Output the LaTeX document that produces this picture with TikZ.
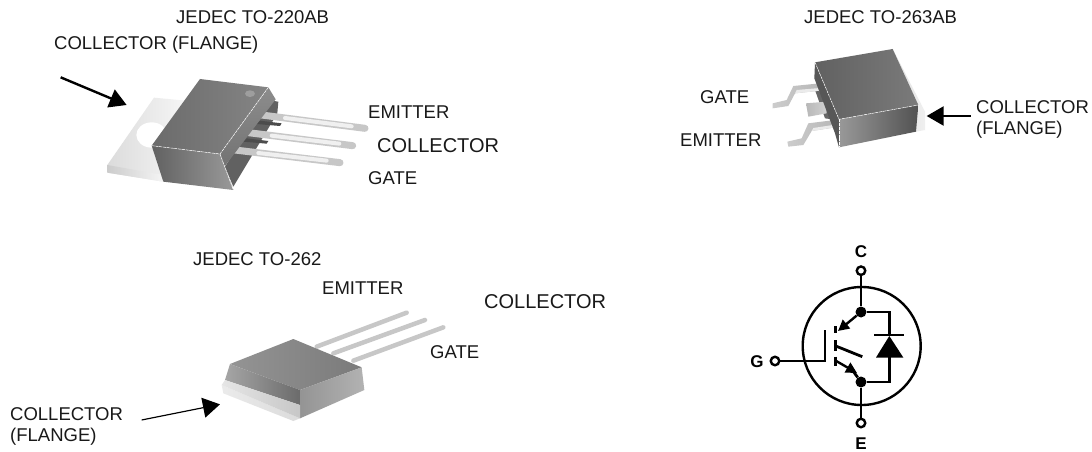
\documentclass[tikz,border=0pt]{standalone}
\usepackage{fontspec}
\setmainfont{Liberation Sans}
\usetikzlibrary{arrows.meta}
\tikzset{
 lbl/.style={anchor=base west,inner sep=0pt,font=\fontsize{18.5}{20}\selectfont,text=black!90},
 lblw/.style={lbl,font=\fontsize{20}{22}\selectfont},
 sym/.style={anchor=center,inner sep=0pt,font=\fontsize{17}{18}\selectfont\bfseries},
 wire/.style={line width=2.8pt,black},
 term/.style={circle,draw=black,line width=2.4pt,fill=white,minimum size=8.5pt,inner sep=0pt},
 jdot/.style={circle,fill=black,minimum size=11pt,inner sep=0pt},
 bigarrow/.style={line width=2.4pt,-{Triangle[length=17pt,width=19pt]}},
 thinarrow/.style={line width=1.2pt,-{Triangle[length=17pt,width=20pt]}},
 faceedge/.style={draw=white,line width=.5pt,dash pattern=on 3pt off .8pt},
 zoomA/.style={x=.33333pt,y=-.33333pt,shift={(30pt,0pt)}},
 zoomB/.style={x=.33333pt,y=-.33333pt,shift={(680pt,0pt)}},
 zoomC/.style={x=.33333pt,y=-.33333pt,shift={(130pt,-290pt)}},
 pinA/.style={line width=7pt,line cap=round,black!22},
 pinAh/.style={line width=4pt,line cap=round,black!6},
 pinC/.style={line width=4.5pt,line cap=round,black!22},
}
\begin{document}
\begin{tikzpicture}[x=1pt,y=-1pt]
\useasboundingbox (0,0) rectangle (1092,452);
\fill[white] (0,0) rectangle (1092,452);
% TO-220AB
\begin{scope}[zoomA]
 \shade[left color=black!14,right color=black!1] (372,293)--(530,308)--(400,545)--(232,518)--(232,495)--cycle;
 \shade[left color=black!20,right color=black!4] (232,495)--(400,525)--(400,545)--(232,518)--cycle;
 \fill[white] (365,405) ellipse (46 and 38);
 \fill[black!62] (712,300)--(745,305)--(742,340)--(610,560)--(585,500)--cycle;
 \foreach \a/\b/\c/\d in {695/345/1005/385,655/398/968/437,615/450/930/488}{
  \draw[pinA] (\a,\b)--(\c,\d);
  \draw[pinAh] (\a+70,\b+9)--(\c-40,\d-6);
 }
 \fill[black!70] (690,362)--(755,370)--(750,378)--(680,372)--cycle;
 \fill[black!70] (650,415)--(715,423)--(710,431)--(640,425)--cycle;
 \shade[top color=black!45,bottom color=black!58] (715,262)--(737,298)--(585,498)--(610,570)--(570,462)--cycle;
 \shade[left color=black!58,right color=black!48] (510,237)--(715,262)--(570,462)--(365,437)--cycle;
 \shade[left color=black!62,right color=black!40] (365,437)--(570,462)--(610,570)--(400,545)--cycle;
 \fill[black!38] (660,281) ellipse (15 and 10);
 \draw[faceedge] (365,437)--(570,462)--(715,262);
 \draw[faceedge] (570,462)--(610,570);
 \coordinate (a220s) at (92,232);
 \coordinate (a220e) at (290,315);
 \draw[bigarrow] (a220s)--(a220e);
\end{scope}
% TO-263AB
\begin{scope}[zoomB]
 \fill[black!60] (405,270)--(450,285)--(470,360)--(435,355)--cycle;
 \shade[left color=black!20,right color=black!28] (420,250)--(340,258)--(320,300)--(278,310)--(278,325)--(325,318)--(345,280)--(420,272)--cycle;
 \fill[black!8] (345,280)--(420,272)--(420,264)--(350,270)--cycle;
 \shade[left color=black!28,right color=black!18] (378,310)--(440,305)--(440,340)--(385,350)--cycle;
 \shade[left color=black!20,right color=black!28] (465,360)--(385,370)--(365,415)--(322,425)--(325,440)--(370,435)--(395,393)--(465,382)--cycle;
 \fill[black!8] (395,393)--(465,382)--(465,374)--(400,384)--cycle;
 \shade[left color=black!12,right color=black!6] (638,147)--(735,335)--(735,390)--(708,395)--(715,315)--cycle;
 \shade[left color=black!62,right color=black!52] (405,187)--(638,147)--(715,315)--(477,358)--cycle;
 \shade[left color=black!40,right color=black!68] (477,358)--(715,315)--(708,395)--(477,442)--cycle;
 \fill[black!66] (405,187)--(477,358)--(477,442)--(465,400)--(403,235)--cycle;
 \draw[faceedge] (405,187)--(477,358)--(715,315);
 \draw[faceedge] (477,358)--(477,442);
 \coordinate (a263s) at (872,348);
 \coordinate (a263e) at (740,348);
 \draw[bigarrow] (a263s)--(a263e);
\end{scope}
% TO-262
\begin{scope}[zoomC]
 \foreach \a/\b/\c/\d in {560/170/830/68,610/190/885/90,670/212/940/112}{
  \draw[pinC] (\a,\b)--(\c,\d);
 }
 \shade[left color=black!8,right color=black!14] (275,285)--(510,385)--(490,393)--(280,310)--cycle;
 \shade[left color=black!42,right color=black!52] (490,147)--(695,232)--(510,300)--(300,222)--cycle;
 \shade[left color=black!35,right color=black!58] (300,222)--(510,300)--(510,345)--(285,270)--cycle;
 \shade[left color=black!42,right color=black!30] (510,300)--(695,232)--(703,300)--(510,385)--cycle;
 \shade[left color=black!10,right color=black!22] (285,270)--(510,345)--(510,385)--(275,285)--cycle;
 \coordinate (a262s) at (35,390);
 \coordinate (a262e) at (270,343);
 \draw[thinarrow] (a262s)--(a262e);
\end{scope}
% Labels
\node[lbl] (t220) at (176,24) {JEDEC TO-220AB};
\node[lbl] (c220) at (54,50) {COLLECTOR (FLANGE)};
\node[lbl] (e220) at (368,118) {EMITTER};
\node[lblw] (k220) at (377,152) {COLLECTOR};
\node[lbl] (g220) at (368,184) {GATE};
\node[lbl] (t263) at (804,24) {JEDEC TO-263AB};
\node[lbl] (g263) at (700,103) {GATE};
\node[lbl] (e263) at (680,146) {EMITTER};
\node[lbl] (k263) at (976,113) {COLLECTOR};
\node[lbl] (f263) at (976,134) {(FLANGE)};
\node[lbl] (t262) at (193,265) {JEDEC TO-262};
\node[lbl] (e262) at (322,294) {EMITTER};
\node[lblw] (k262) at (484,308) {COLLECTOR};
\node[lbl] (g262) at (430,358) {GATE};
\node[lbl] (k262b) at (10,420) {COLLECTOR};
\node[lbl] (f262) at (10,441) {(FLANGE)};
% IGBT symbol
\node[circle,draw=black,line width=2.4pt,minimum size=118pt,inner sep=0pt] (ring) at (861.7,346) {};
\node[sym] (lc) at (861,252) {C};
\node[sym] (lg) at (757,362) {G};
\node[sym] (le) at (861,444) {E};
\node[jdot] (jt) at (861,312) {};
\node[jdot] (jb) at (861,382) {};
\coordinate (gk) at (825,361);
\coordinate (gt) at (825,330);
\coordinate (dt) at (889.3,312);
\coordinate (db) at (889.3,382);
\coordinate (da) at (889.3,336);
\coordinate (dk) at (889.3,357);
\coordinate (ce) at (838,331);
\coordinate (ees) at (835.7,360.7);
\coordinate (swa) at (835.7,346);
\coordinate (swb) at (862.3,356.7);
\node[term] (tc) at (861,270.7) {};
\node[term] (te) at (861,423) {};
\node[term] (tg) at (775,361) {};
\draw[wire] (tc)--(jt);
\draw[wire] (te)--(jb);
\draw[wire] (tg)--(gk)--(gt);
\draw[wire] (jt)--(dt)--(da);
\draw[wire] (jb)--(db)--(dk);
\draw[line width=2.8pt] (874,335)--(904,335);
\fill[black] (889.3,336)--(876,357.5)--(903.3,357.5)--cycle;
\draw[wire] (835.7,326)--(835.7,332.7);
\draw[wire] (835.7,340)--(835.7,350.7);
\draw[wire] (835.7,356.7)--(835.7,366);
\draw[wire] (swa)--(swb);
\draw[line width=2.4pt,-{Triangle[length=11pt,width=11pt]}] (jt)--(ce);
\draw[line width=2.4pt,-{Triangle[length=11pt,width=11pt]}] (ees)--(857,373);
\draw[wire] (853,371)--(jb);
\end{tikzpicture}
\end{document}
